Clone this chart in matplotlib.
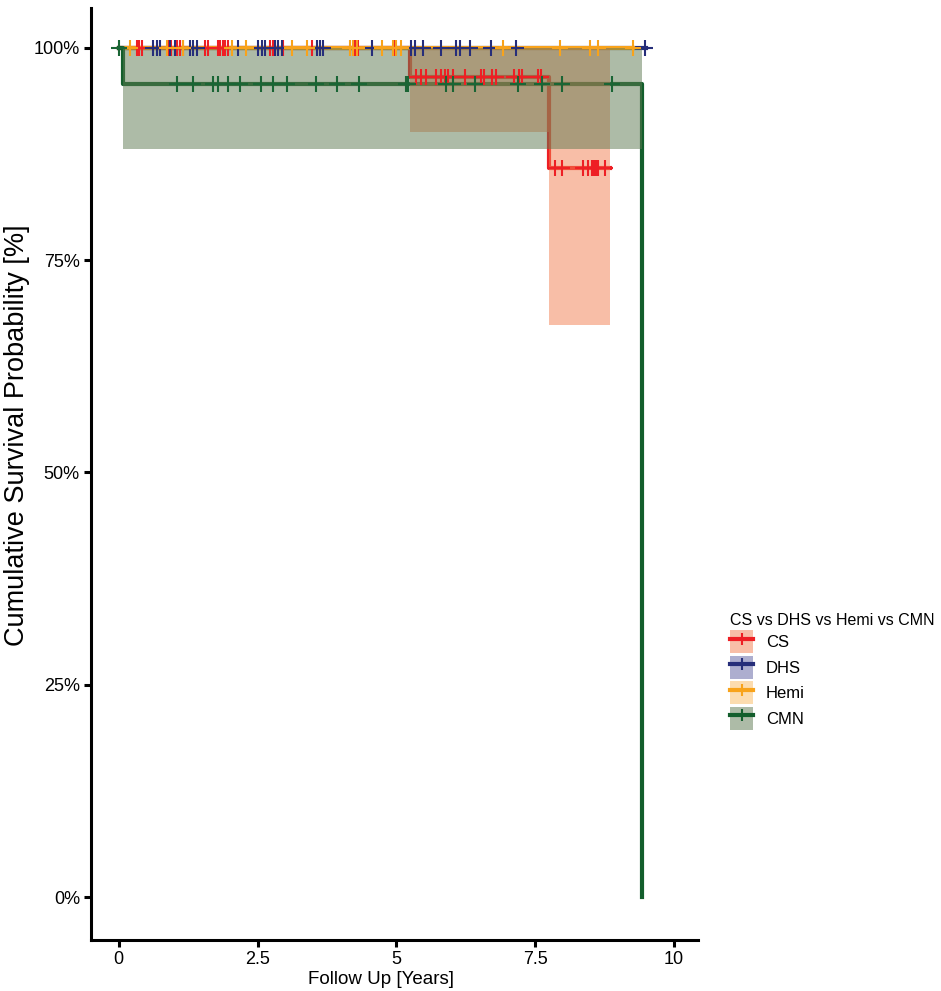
import numpy as np
import matplotlib
matplotlib.use('Agg')
import matplotlib.pyplot as plt
from matplotlib.patches import Patch
from matplotlib.lines import Line2D

plt.rcParams['font.family'] = ['Liberation Sans', 'DejaVu Sans']

# --- Kaplan-Meier step data (time in years, survival as fraction) ---
groups = ['CS', 'DHS', 'Hemi', 'CMN']
line_colors = ['#EE1F24', '#262E7A', '#F8A31B', '#135E2C']
fill_colors = ['#F37F51', '#5D5FA0', '#FBBB61', '#5D7951']

cs_time = [0, 5.24, 7.75, 8.84]
cs_surv = [1.0, 0.966, 0.858, 0.858]
cs_lower = [1.0, 0.901, 0.674, 0.674]
cs_upper = [1.0, 1.0, 1.0, 1.0]

dhs_time = [0, 9.5]
dhs_surv = [1.0, 1.0]

hemi_time = [0, 9.26]
hemi_surv = [1.0, 1.0]

cmn_time = [0, 0.07, 9.42, 9.42]
cmn_surv = [1.0, 0.958, 0.0, 0.0]
cmn_lower = [1.0, 0.881, 0.881, 0.881]
cmn_upper = [1.0, 1.0, 1.0, 1.0]

# censored observations
cs_cens_100 = [0.32, 0.36, 0.41, 0.88, 0.94, 1.04, 1.10, 1.15, 1.56, 1.60, 1.78, 1.83, 1.87,
               1.91, 1.96, 2.72, 2.77, 2.81, 2.95, 3.48, 4.25, 4.30, 4.95]
cs_cens_966 = [5.36, 5.45, 5.54, 5.72, 5.81, 5.87, 5.93, 6.02, 6.23, 6.52, 6.58, 6.73, 6.79,
               7.12, 7.21, 7.27, 7.55, 7.61]
cs_cens_858 = [7.86, 7.98, 8.36, 8.45, 8.52, 8.54, 8.58, 8.60, 8.63, 8.76]
dhs_cens = [0.61, 0.68, 0.74, 0.92, 1.01, 1.28, 1.33, 1.40, 2.14, 2.50, 2.58, 2.63, 2.81, 2.86,
            2.94, 3.57, 3.62, 3.68, 4.56, 5.27, 5.33, 5.48, 5.81, 6.08, 6.14, 6.32, 6.71,
            7.16, 9.48]
hemi_cens = [0.20, 0.86, 1.15, 2.04, 2.30, 3.12, 3.39, 4.16, 4.22, 4.29, 4.74, 4.94, 5.00,
             5.09, 6.92, 7.95, 8.49, 8.63, 9.26]
cmn_cens_100 = [0.0]
cmn_cens_958 = [1.05, 1.34, 1.70, 1.79, 1.97, 2.18, 2.57, 2.77, 3.03, 3.55, 3.93, 4.33, 5.18,
                5.21, 5.90, 6.02, 6.41, 7.19, 7.62, 7.98, 8.88]

fig = plt.figure(figsize=(9.41, 9.91), dpi=100)
ax = fig.add_axes([0.0967, 0.0515, 0.645, 0.9405])

lw = 3.0
# survival curves (drawn under the confidence bands)
ax.step(cs_time, cs_surv, where='post', color=line_colors[0], lw=lw, zorder=2)
ax.step(dhs_time, dhs_surv, where='post', color=line_colors[1], lw=lw, zorder=2)
ax.step(hemi_time, hemi_surv, where='post', color=line_colors[2], lw=lw, zorder=2)
ax.step(cmn_time, cmn_surv, where='post', color=line_colors[3], lw=lw, zorder=2)

# confidence bands
ax.fill_between(cs_time[1:], cs_lower[1:], cs_upper[1:], step='post',
                color=fill_colors[0], alpha=0.5, lw=0, zorder=3)
ax.fill_between(cmn_time[1:3], cmn_lower[1:3], cmn_upper[1:3], step='post',
                color=fill_colors[3], alpha=0.5, lw=0, zorder=4)

# censor marks
mk = dict(marker='+', ls='none', ms=11, mew=1.5, zorder=5)
ax.plot(cs_cens_100, [1.0] * len(cs_cens_100), color=line_colors[0], **mk)
ax.plot(cs_cens_966, [0.966] * len(cs_cens_966), color=line_colors[0], **mk)
ax.plot(cs_cens_858, [0.858] * len(cs_cens_858), color=line_colors[0], **mk)
ax.plot(dhs_cens, [1.0] * len(dhs_cens), color=line_colors[1], **mk)
ax.plot(hemi_cens, [1.0] * len(hemi_cens), color=line_colors[2], **mk)
ax.plot(cmn_cens_100, [1.0] * len(cmn_cens_100), color='#1A6535', **mk)
ax.plot(cmn_cens_958, [0.958] * len(cmn_cens_958), color='#1A6535', **mk)

ax.set_xlim(-0.5, 10.43)
ax.set_ylim(-0.0505, 1.047)
ax.set_xticks([0, 2.5, 5, 7.5, 10])
ax.set_xticklabels(['0', '2.5', '5', '7.5', '10'])
ax.set_yticks([0, 0.25, 0.5, 0.75, 1.0])
ax.set_yticklabels(['0%', '25%', '50%', '75%', '100%'])
for s in ['top', 'right']:
    ax.spines[s].set_visible(False)
for s in ['left', 'bottom']:
    ax.spines[s].set_linewidth(2.2)
ax.tick_params(width=2.2, length=5, labelsize=13, colors='black', pad=3)

ax.set_xlabel('Follow Up [Years]', fontsize=13.5, labelpad=0)
ax.set_ylabel('Cumulative Survival Probability [%]', fontsize=19.5)
ax.xaxis.set_label_coords(0.478, -0.033)
ax.yaxis.set_label_coords(-0.1, 0.542)

handles = []
for lc, fc in zip(line_colors, fill_colors):
    handles.append((Patch(facecolor=fc, alpha=0.5, lw=0),
                    Line2D([], [], color=lc, lw=lw, marker='+', ms=9, mew=1.5)))
leg = fig.legend(handles, groups, title='CS vs DHS vs Hemi vs CMN', loc='upper left',
                 bbox_to_anchor=(0.767, 0.39), frameon=False, fontsize=12,
                 title_fontsize=11.5, handlelength=1.4, handleheight=1.75,
                 labelspacing=0.15, handletextpad=0.75, borderpad=0)
leg._legend_box.align = 'left'

fig.savefig('out.png', dpi=100)
